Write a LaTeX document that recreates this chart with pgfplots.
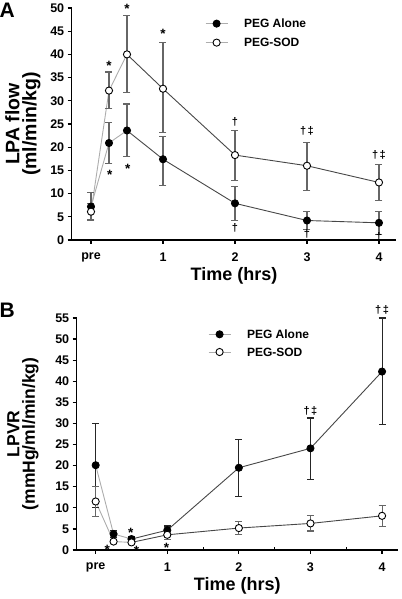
\documentclass[border=0pt]{standalone}
\usepackage{fontspec}
\setmainfont{Liberation Sans}
\usepackage{pgfplots}
\pgfplotsset{compat=1.18}
\colorlet{lightln}{black!32}
\colorlet{darkln}{black!72}
\tikzset{sig/.style={font=\bfseries\fontsize{11bp}{11bp}\selectfont, inner sep=0pt},
         ast/.style={font=\bfseries\fontsize{13.5bp}{13bp}\selectfont, inner sep=0pt}}
\pgfplotsset{
 base/.style={
   scale only axis, anchor=south west,
   axis x line*=bottom, axis y line*=left,
   axis line style={line width=1.3bp,-},
   every tick/.style={black, line width=1.2bp},
   tick align=outside, major tick length=4bp,
   xtick={0,1,2,3,4}, xticklabels={pre,1,2,3,4},
   ticklabel style={font=\bfseries\fontsize{12.5bp}{14bp}\selectfont},
   xticklabel style={yshift=-5bp},
   /pgf/number format/assume math mode=true,
   clip=false,
   legend cell align=left,
   legend style={draw=none, fill=none, inner sep=0pt, anchor=north west,
     font=\bfseries\fontsize{12bp}{14bp}\selectfont,
     nodes={inner sep=0pt, text height=8.6bp, text depth=0bp}},
   legend image code/.code={\draw[mark repeat=2,mark phase=2] plot coordinates {(0bp,0bp) (11bp,0bp) (22bp,0bp)};},
   /tikz/every odd column/.append style={column sep=16bp},
   every axis x label/.style={at={(axis description cs:0.5,0)}, anchor=center, yshift=-36bp},
   xlabel style={font=\bfseries\fontsize{18bp}{18bp}\selectfont},
 },
 peg/.style={only marks, mark=*, mark size=3.6bp, mark options={fill=black, draw=black, line width=0.8bp}},
 sod/.style={only marks, mark=*, mark size=3.6bp, mark options={fill=white, draw=black, line width=0.9bp}},
 eb/.style={/pgfplots/error bars/y dir=both, /pgfplots/error bars/y explicit,
   /pgfplots/error bars/error bar style={line width=1.1bp, #1},
   /pgfplots/error bars/error mark options={rotate=90, mark size=3.5bp, line width=1.1bp, #1}},
}
\begin{document}
\begin{tikzpicture}[x=1bp,y=1bp]
\useasboundingbox (0,0) rectangle (401,599);
\node[font=\bfseries\fontsize{21bp}{21bp}\selectfont, anchor=north west, inner sep=0pt] at (-0.5,596) {A};
\node[font=\bfseries\fontsize{21bp}{21bp}\selectfont, anchor=north west, inner sep=0pt] at (-0.5,296) {B};

% ---------------- Panel A ----------------
\begin{axis}[base,
  at={(71.7bp,359bp)}, width=324.7bp, height=232bp,
  xmin=-0.268, xmax=4.242, ymin=0, ymax=50,
  ytick={0,5,...,50},
  xlabel={Time (hrs)},
  every axis y label/.style={at={(axis description cs:-0.15,0.5)}, rotate=90, anchor=center},
  ylabel style={align=center, font=\bfseries\fontsize{19.5bp}{17bp}\selectfont},
  ylabel={LPA flow\\(ml/min/kg)},
  legend style={at={(axis cs:1.583,47.6)}, row sep=10.4bp},
]
\addplot[lightln, line width=0.9bp, forget plot] coordinates {(0,6.1) (0.25,32.2) (0.5,40.0)};
\addplot[darkln, line width=0.9bp, forget plot] coordinates {(0.5,40.0) (1,32.6) (2,18.3) (3,16.0) (4,12.4)};
\addplot[lightln, line width=0.9bp, forget plot] coordinates {(0,7.2) (0.25,20.9) (0.5,23.6)};
\addplot[darkln, line width=0.9bp, forget plot] coordinates {(0.5,23.6) (1,17.4) (2,7.9) (3,4.2) (4,3.7)};
\addplot[peg, eb={black!60}, forget plot] coordinates {
 (0,7.2) += (0,3.0) -= (0,2.8)
 (0.25,20.9) += (0,4.5) -= (0,4.4)
 (0.5,23.6) += (0,5.7) -= (0,5.7)
 (1,17.4) += (0,4.9) -= (0,5.6)
 (2,7.9) += (0,3.6) -= (0,3.7)
 (3,4.2) += (0,2.0) -= (0,1.9)
 (4,3.7) += (0,2.5) -= (0,2.6)
};
\addplot[sod, eb={black!60}, forget plot] coordinates {
 (0,6.1) += (0,1.8) -= (0,1.8)
 (0.25,32.2) += (0,4.0) -= (0,3.8)
 (0.5,40.0) += (0,8.3) -= (0,8.3)
 (1,32.6) += (0,10.0) -= (0,9.5)
 (2,18.3) += (0,5.2) -= (0,5.4)
 (3,16.0) += (0,5.1) -= (0,5.4)
 (4,12.4) += (0,3.9) -= (0,3.9)
};
\addlegendimage{lightln, line width=0.9bp, mark=*, mark size=3.6bp, mark options={fill=black, draw=black, line width=0.8bp}}
\addlegendentry{PEG Alone}
\addlegendimage{lightln, line width=0.9bp, mark=*, mark size=3.6bp, mark options={fill=white, draw=black, line width=0.9bp}}
\addlegendentry{PEG-SOD}
\node[ast] at (axis cs:0.25,37.6) {*};
\node[ast] at (axis cs:0.5,49.8) {*};
\node[ast] at (axis cs:1,44.4) {*};
\node[ast] at (axis cs:0.26,14.0) {*};
\node[ast] at (axis cs:0.51,15.3) {*};
\node[sig] at (axis cs:2,25.5) {†};
\node[sig] at (axis cs:3,23.6) {†\kern1.5bp‡};
\node[sig] at (axis cs:4,18.3) {†\kern1.5bp‡};
\node[sig] at (axis cs:2,2.6) {†};
\node[sig] at (axis cs:3,1.4) {†};
\node[sig] at (axis cs:4,0.6) {†};
\end{axis}

% ---------------- Panel B ----------------
\begin{axis}[base,
  at={(76.7bp,49bp)}, width=321.1bp, height=232bp,
  xmin=-0.265, xmax=4.22, ymin=0, ymax=55,
  ytick={0,5,...,55},
  extra x ticks={1.5,2.5,3.5}, extra x tick labels={},
  extra x tick style={tick align=inside, major tick length=2.5bp, every tick/.style={black, line width=0.8bp}},
  xlabel={Time (hrs)},
  every axis y label/.style={at={(axis description cs:-0.167,0.5)}, rotate=90, anchor=center},
  ylabel style={align=center, font=\bfseries\fontsize{17.5bp}{15.5bp}\selectfont},
  ylabel={LPVR\\(mmHg/ml/min/kg)},
  legend style={at={(axis cs:1.568,52.2)}, row sep=9.1bp},
]
\addplot[lightln, line width=0.9bp, forget plot] coordinates {(0,11.5) (0.25,2.0) (0.5,1.8)};
\addplot[darkln, line width=0.9bp, forget plot] coordinates {(0.5,1.8) (1,3.6) (2,5.2) (3,6.3) (4,8.1)};
\addplot[lightln, line width=0.9bp, forget plot] coordinates {(0,20.1) (0.25,3.8) (0.5,2.6)};
\addplot[darkln, line width=0.9bp, forget plot] coordinates {(0.5,2.6) (1,4.7) (2,19.5) (3,24.1) (4,42.3)};
\addplot[peg, eb={black!85}, forget plot] coordinates {
 (0,20.1) += (0,9.9) -= (0,10.1)
 (0.25,3.8) += (0,0.9) -= (0,0.9)
 (0.5,2.6) += (0,0.6) -= (0,0.6)
 (1,4.7) += (0,1.0) -= (0,1.0)
 (2,19.5) += (0,6.6) -= (0,6.8)
 (3,24.1) += (0,7.2) -= (0,7.3)
 (4,42.3) += (0,12.7) -= (0,12.5)
};
\addplot[sod, eb={black!60}, forget plot] coordinates {
 (0,11.5) += (0,3.5) -= (0,3.6)
 (0.25,2.0) += (0,0.4) -= (0,0.4)
 (0.5,1.8) += (0,0.4) -= (0,0.4)
 (1,3.6) += (0,1.2) -= (0,1.2)
 (2,5.2) += (0,1.5) -= (0,1.5)
 (3,6.3) += (0,1.8) -= (0,1.8)
 (4,8.1) += (0,2.5) -= (0,2.5)
};
\addlegendimage{lightln, line width=0.9bp, mark=*, mark size=3.6bp, mark options={fill=black, draw=black, line width=0.8bp}}
\addlegendentry{PEG Alone}
\addlegendimage{lightln, line width=0.9bp, mark=*, mark size=3.6bp, mark options={fill=white, draw=black, line width=0.9bp}}
\addlegendentry{PEG-SOD}
\node[ast] at (axis cs:0.16,0.1) {*};
\node[ast] at (axis cs:0.49,4.0) {*};
\node[ast] at (axis cs:0.57,-0.1) {*};
\node[ast] at (axis cs:0.99,0.5) {*};
\node[sig] at (axis cs:3,33) {†\kern1.5bp‡};
\node[sig] at (axis cs:4,57) {†\kern1.5bp‡};
\end{axis}
\end{tikzpicture}
\end{document}
